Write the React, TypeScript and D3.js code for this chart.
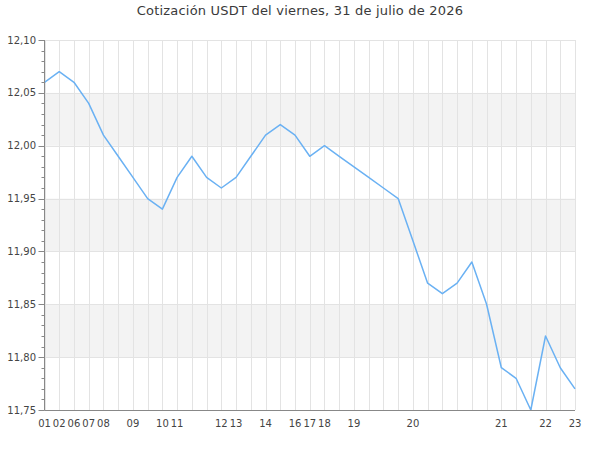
import React from "react";
import * as d3 from "d3";

const title = "Cotización USDT del viernes, 31 de julio de 2026";
const values = [
  12.06, 12.07, 12.06, 12.04, 12.01, 11.99, 11.97, 11.95, 11.94, 11.97,
  11.99, 11.97, 11.96, 11.97, 11.99, 12.01, 12.02, 12.01, 11.99, 12.0,
  11.99, 11.98, 11.97, 11.96, 11.95, 11.91, 11.87, 11.86, 11.87, 11.89,
  11.85, 11.79, 11.78, 11.75, 11.82, 11.79, 11.77,
];
const xLabelIndex = [0, 1, 2, 3, 4, 6, 8, 9, 12, 13, 15, 17, 18, 19, 21, 25, 31, 34, 36];
const xLabelText = ["01", "02", "06", "07", "08", "09", "10", "11", "12", "13", "14", "16", "17", "18", "19", "20", "21", "22", "23"];
const yMajor = [11.75, 11.8, 11.85, 11.9, 11.95, 12.0, 12.05, 12.1];
const yDomain = [11.75, 12.1];

const W = 600;
const H = 450;
const L = 44.5;
const R = 575;
const T = 40;
const B = 410;

export default function App() {
  const x = d3.scaleLinear().domain([0, values.length - 1]).range([L, R]);
  const y = d3.scaleLinear().domain(yDomain).range([B, T]);
  const line = d3
    .line<number>()
    .x((_, i) => x(i))
    .y((d) => y(d));
  const minor = d3.range(0, 36).map((k) => +(yDomain[0] + k * 0.01).toFixed(2));
  const fmt = (v: number) => v.toFixed(2).replace(".", ",");
  const bands = [
    [12.0, 12.05],
    [11.9, 11.95],
    [11.8, 11.85],
  ];
  const font = "DejaVu Sans, sans-serif";
  return (
    <svg
      width={W}
      height={H}
      style={{ position: "absolute", left: 0, top: 0 }}
      fontFamily={font}
    >
      <rect x={0} y={0} width={W} height={H} fill="#fff" />
      <text x={W / 2} y={15} textAnchor="middle" fontSize={13} letterSpacing={0.2} fill="#3a3a3a">
        {title}
      </text>
      {bands.map(([a, b], i) => (
        <rect key={i} x={L} y={y(b)} width={R - L} height={y(a) - y(b)} fill="#f3f3f3" />
      ))}
      {values.map((_, i) => (
        <line
          key={"v" + i}
          x1={Math.round(x(i)) + 0.5}
          x2={Math.round(x(i)) + 0.5}
          y1={T}
          y2={B}
          stroke="#e3e3e3"
          strokeWidth={1}
        />
      ))}
      {yMajor.map((v) => (
        <line
          key={"h" + v}
          x1={L}
          x2={R}
          y1={Math.round(y(v)) + 0.5}
          y2={Math.round(y(v)) + 0.5}
          stroke="#e3e3e3"
          strokeWidth={1}
        />
      ))}
      <path d={line(values) || ""} fill="none" stroke="#6ab1f3" strokeWidth={1.5} strokeLinejoin="round" />
      <line x1={L} x2={L} y1={T} y2={B} stroke="#888" strokeWidth={1} />
      <line x1={L} x2={R} y1={B + 0.5} y2={B + 0.5} stroke="#888" strokeWidth={1} />
      {minor.map((v) => (
        <line
          key={"m" + v}
          x1={L - 3}
          x2={L}
          y1={Math.round(y(v)) + 0.5}
          y2={Math.round(y(v)) + 0.5}
          stroke="#888"
        />
      ))}
      {yMajor.map((v) => (
        <g key={"t" + v}>
          <line x1={L - 6} x2={L} y1={Math.round(y(v)) + 0.5} y2={Math.round(y(v)) + 0.5} stroke="#888" />
          <text x={L - 8.5} y={y(v) + 3.5} textAnchor="end" fontSize={10} fill="#444">
            {fmt(v)}
          </text>
        </g>
      ))}
      {xLabelIndex.map((idx, i) => (
        <text key={"x" + i} x={x(idx)} y={427} textAnchor="middle" fontSize={10} fill="#444">
          {xLabelText[i]}
        </text>
      ))}
    </svg>
  );
}
